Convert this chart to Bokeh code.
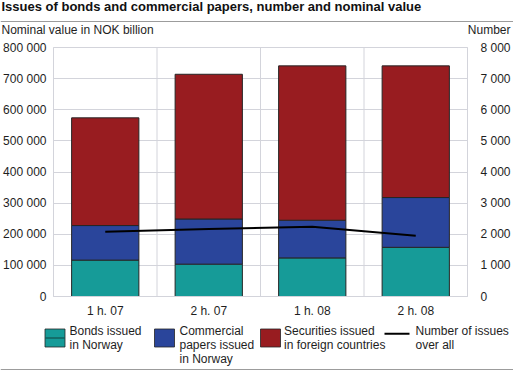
from bokeh.plotting import figure
from bokeh.layouts import column
from bokeh.models import (FactorRange, Range1d, LinearAxis, FixedTicker, Label,
                          Span, ColumnDataSource)
from bokeh.embed import file_html
from bokeh.resources import INLINE

# ---------------- data ----------------
periods = ["1 h. 07", "2 h. 07", "1 h. 08", "2 h. 08"]
bonds_norway = [117000, 104000, 124000, 158000]
commercial_norway = [111000, 145000, 121000, 160000]
foreign_countries = [346000, 465000, 496000, 423000]
number_of_issues = [2080, 2170, 2240, 1950]

value_ticks = [0, 100000, 200000, 300000, 400000, 500000, 600000, 700000, 800000]
value_tick_labels = ["0", "100 000", "200 000", "300 000", "400 000", "500 000",
                     "600 000", "700 000", "800 000"]
number_ticks = [0, 1000, 2000, 3000, 4000, 5000, 6000, 7000, 8000]
number_tick_labels = ["0", "1 000", "2 000", "3 000", "4 000", "5 000", "6 000",
                      "7 000", "8 000"]

title_text = "Issues of bonds and commercial papers, number and nominal value"
left_axis_title = "Nominal value in NOK billion"
right_axis_title = "Number"
legend_labels = [["Bonds issued", "in Norway"],
                 ["Commercial", "papers issued", "in Norway"],
                 ["Securities issued", "in foreign countries"],
                 ["Number of issues", "over all"]]

# ---------------- style ----------------
TEAL = "#169B98"
BLUE = "#2A459B"
RED = "#981C20"
GRID = "#d3d4db"
RULE = "#9c9c9c"
TXT = "#1e1e1e"
FONT = "Liberation Sans"
FS = "12px"

W = 513
H_TOP, H_MAIN, H_LEG = 40, 280, 54


def canvas_fig(h):
    f = figure(width=W, height=h, x_range=Range1d(0, W), y_range=Range1d(h, 0),
               output_backend="svg", toolbar_location=None,
               x_axis_location=None, y_axis_location=None,
               min_border=0, min_border_left=0, min_border_right=0,
               min_border_top=0, min_border_bottom=0, frame_align=False)
    f.grid.visible = False
    f.outline_line_color = None
    f.background_fill_color = "white"
    f.border_fill_color = "white"
    return f


# ---------------- header ----------------
top = canvas_fig(H_TOP)
top.add_layout(Label(x=1, y=13.3, text=title_text, text_font=FONT,
                     text_font_size="13px", text_font_style="bold",
                     text_color="#111111"))
top.quad(left=[0], right=[W], top=[20.5], bottom=[21.5], fill_color=RULE,
         line_color=None)
top.add_layout(Label(x=1, y=36, text=left_axis_title, text_font=FONT,
                     text_font_size=FS, text_color=TXT))
top.add_layout(Label(x=510, y=36, text=right_axis_title, text_font=FONT,
                     text_font_size=FS, text_color=TXT, text_align="right"))

# ---------------- main chart ----------------
p = figure(width=W, height=H_MAIN, x_range=FactorRange(*periods),
           y_range=Range1d(0, 800000), output_backend="svg", toolbar_location=None,
           min_border_left=51, min_border_right=38, min_border_top=7,
           min_border_bottom=23, frame_align=False)
p.background_fill_color = "white"
p.border_fill_color = "white"
p.outline_line_color = GRID

src = ColumnDataSource(dict(period=periods, bonds=bonds_norway,
                            comm=commercial_norway, foreign=foreign_countries))
p.vbar_stack(["bonds", "comm", "foreign"], x="period", width=0.65, source=src,
             fill_color=[TEAL, BLUE, RED], line_color="#262626", line_width=1)

p.extra_y_ranges = {"num": Range1d(0, 8000)}
p.line(x=periods, y=number_of_issues, y_range_name="num", line_color="black",
       line_width=2)

p.yaxis.ticker = FixedTicker(ticks=value_ticks)
p.yaxis.major_label_overrides = dict(zip(value_ticks, value_tick_labels))
rax = LinearAxis(y_range_name="num", ticker=FixedTicker(ticks=number_ticks),
                 major_label_overrides=dict(zip(number_ticks, number_tick_labels)))
p.add_layout(rax, "right")

for ax in [p.yaxis[0], rax, p.xaxis[0]]:
    ax.axis_line_color = GRID
    ax.major_tick_line_color = None
    ax.minor_tick_line_color = None
    ax.major_label_text_font = FONT
    ax.major_label_text_font_size = FS
    ax.major_label_text_color = TXT
p.yaxis[0].major_label_standoff = 1
rax.major_label_standoff = 7
p.xaxis[0].major_label_standoff = 1

p.ygrid.ticker = FixedTicker(ticks=value_ticks)
p.ygrid.grid_line_color = GRID
p.xgrid.visible = False
for i in range(1, len(periods)):
    p.add_layout(Span(location=i, dimension="height", line_color=GRID, line_width=1,
                      level="underlay"))

# ---------------- legend ----------------
leg = canvas_fig(H_LEG)
sw_x = [44.5, 154, 260]
txt_x = [69, 179, 283.5, 415]
sw_top, sw_h, sw_w = 8.5, 18, 20
leg.quad(left=sw_x, right=[x + sw_w for x in sw_x], top=[sw_top] * 3,
         bottom=[sw_top + sw_h] * 3, fill_color=[TEAL, BLUE, RED],
         line_color="#262626", line_width=1, line_alpha=0.8)
leg.segment(x0=[sw_x[0]], x1=[sw_x[0] + sw_w], y0=[sw_top + 9], y1=[sw_top + 9],
            line_color="#135f5c", line_width=1.5)
leg.segment(x0=[384], x1=[409], y0=[13.3], y1=[13.3], line_color="black",
            line_width=2)
for k, lines in enumerate(legend_labels):
    for j, t in enumerate(lines):
        leg.add_layout(Label(x=txt_x[k], y=17.5 + 14 * j, text=t, text_font=FONT,
                             text_font_size=FS, text_color=TXT))
leg.quad(left=[0], right=[W], top=[48.5], bottom=[49.5], fill_color=RULE,
         line_color=None)

layout = column(top, p, leg, spacing=0)
open("out.html", "w").write(file_html(layout, INLINE))
